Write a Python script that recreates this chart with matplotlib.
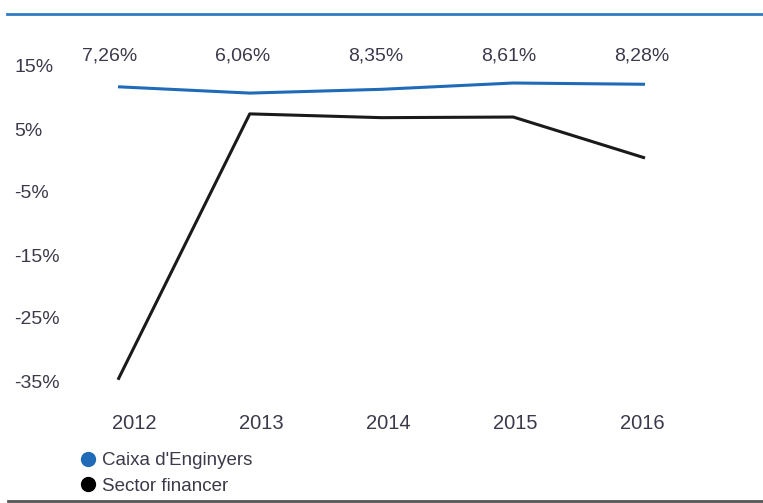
import matplotlib.pyplot as plt
from matplotlib.lines import Line2D

# data
years = ["2012", "2013", "2014", "2015", "2016"]
caixa = [11.7, 10.7, 11.3, 12.3, 12.1]        # drawn line (%)
caixa_labels = ["7,26%", "6,06%", "8,35%", "8,61%", "8,28%"]
sector = [-34.8, 7.4, 6.8, 6.9, 0.4]          # Sector financer (%)
yticks = [15, 5, -5, -15, -25, -35]

blue = "#1f6bb8"
txt = "#3c3a4a"
W, H = 763, 503

plt.rcParams['font.family'] = ['Liberation Sans', 'DejaVu Sans']

fig = plt.figure(figsize=(W / 100, H / 100), dpi=100)

# axes box in pixels
left, right, top, bottom = 70, 700, 40, 395
ax = fig.add_axes([left / W, 1 - bottom / H, (right - left) / W, (bottom - top) / H])

# pixel -> data mapping: 15% at y=66, 10% per 63 px ; year label i at 134+127*i
ppy = 6.3
ax.set_ylim(15 - (bottom - 66) / ppy, 15 + (66 - top) / ppy)
ax.set_xlim((left - 134) / 127, (right - 134) / 127)

# in the original the lines are spaced a bit wider than the year labels
x = [(118 + 131.75 * i - 134) / 127 for i in range(len(years))]
ax.plot(x, caixa, color=blue, lw=2.2, solid_capstyle="butt")
ax.plot(x, sector, color="#1a1a1a", lw=2.2, solid_capstyle="butt")

# value labels are spread a little wider than the years too
for i, lab in enumerate(caixa_labels):
    ax.text((110 + 133 * i - 134) / 127, 15 + (66 - 56) / ppy, lab,
            ha="center", va="center", fontsize=14, color=txt)

ax.set_yticks(yticks)
ax.set_yticklabels([f"{t}%" for t in yticks])
ax.set_xticks(range(len(years)))
ax.set_xticklabels(years)
ax.tick_params(axis="y", length=0, pad=40, labelsize=14, labelcolor=txt)
ax.tick_params(axis="x", length=0, pad=14, labelsize=14.5, labelcolor=txt)
for lab in ax.get_yticklabels():
    lab.set_horizontalalignment("left")
for s in ax.spines.values():
    s.set_visible(False)

# top and bottom rules
fig.add_artist(Line2D([7 / W, 1], [1 - 14 / H] * 2, color="#2f7cc5", lw=2))
fig.add_artist(Line2D([8 / W, 1], [1 - 501 / H] * 2, color="#555555", lw=2))

handles = [Line2D([], [], ls="none", marker="o", ms=10, color=blue),
           Line2D([], [], ls="none", marker="o", ms=10, color="black")]
fig.legend(handles, ["Caixa d'Enginyers", "Sector financer"],
           loc="upper left", bbox_to_anchor=(80 / W, 1 - 452 / H),
           frameon=False, fontsize=13.5, labelcolor=txt, handlelength=0.8,
           handletextpad=0.4, labelspacing=0.45, borderpad=0, borderaxespad=0)

fig.savefig("out.png", dpi=100)
